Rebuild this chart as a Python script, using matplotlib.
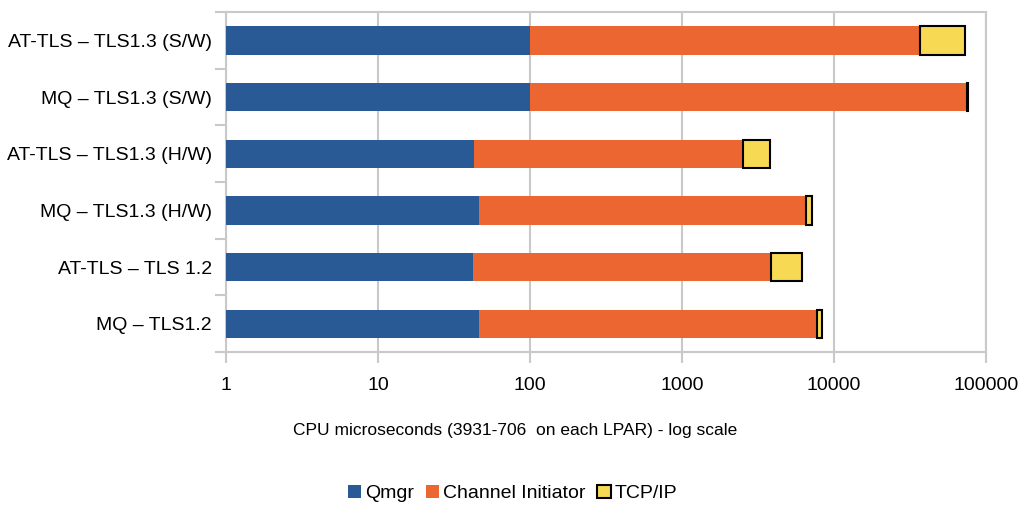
import matplotlib.pyplot as plt
from matplotlib.ticker import FixedLocator, NullFormatter, NullLocator

plt.rcParams['font.family'] = ['Liberation Sans Narrow', 'Liberation Sans', 'DejaVu Sans']

# top to bottom, as in the chart
labels = ['AT-TLS – TLS1.3 (S/W)', 'MQ – TLS1.3 (S/W)', 'AT-TLS – TLS1.3 (H/W)',
          'MQ – TLS1.3 (H/W)', 'AT-TLS – TLS 1.2', 'MQ – TLS1.2']
qmgr = [100, 100, 43, 46, 42, 46]
chinit = [36600, 75300, 2462, 6474, 3823, 7704]
tcpip = [35800, 300, 1305, 610, 2290, 600]

blue = '#2A5A96'
orange = '#EC6631'
yellow = '#F7D954'
grid_c = '#C9C9C9'

fig = plt.figure(figsize=(10.25, 5.07), dpi=100)
ax = fig.add_axes([0.2205, 0.3057, 0.7415, 0.6703])

y = list(range(len(labels)))
left2 = qmgr
left3 = [a + b for a, b in zip(qmgr, chinit)]

ax.barh(y, qmgr, height=0.5, color=blue, label='Qmgr', zorder=3)
ax.barh(y, chinit, left=left2, height=0.5, color=orange, label='Channel Initiator', zorder=3)
ax.barh(y, tcpip, left=left3, height=0.5, color=yellow, edgecolor='black',
        linewidth=1.5, label='TCP/IP', zorder=3)

ax.set_xscale('log')
ax.set_xlim(1, 100000)
ax.set_ylim(-0.5, len(labels) - 0.5)
ax.invert_yaxis()

ax.set_xticks([1, 10, 100, 1000, 10000, 100000])
ax.set_xticklabels(['1', '10', '100', '1000', '10000', '100000'])
ax.xaxis.set_minor_locator(NullLocator())
ax.xaxis.grid(True, color=grid_c, linewidth=1.5, zorder=0)

ax.set_yticks(y)
ax.set_yticklabels(labels)
ax.yaxis.set_minor_locator(FixedLocator([i - 0.5 for i in range(len(labels) + 1)]))
ax.yaxis.set_minor_formatter(NullFormatter())
ax.tick_params(axis='y', which='major', length=0, labelsize=14, pad=10)
ax.tick_params(axis='y', which='minor', length=8, width=1.5, color=grid_c)
ax.tick_params(axis='x', which='major', length=8, width=1.5, color=grid_c,
               labelsize=14, pad=10)

for s in ax.spines.values():
    s.set_color(grid_c)
    s.set_linewidth(1.5)

fig.text(0.503, 0.150, 'CPU microseconds (3931-706  on each LPAR) - log scale',
         fontsize=12.5, ha='center', va='center')

fig.legend(loc='center', bbox_to_anchor=(0.5, 0.027), ncol=3, frameon=False,
           fontsize=14, handlelength=0.7, handleheight=0.7, handletextpad=0.2,
           columnspacing=0.6)

fig.savefig('out.png', dpi=100)
